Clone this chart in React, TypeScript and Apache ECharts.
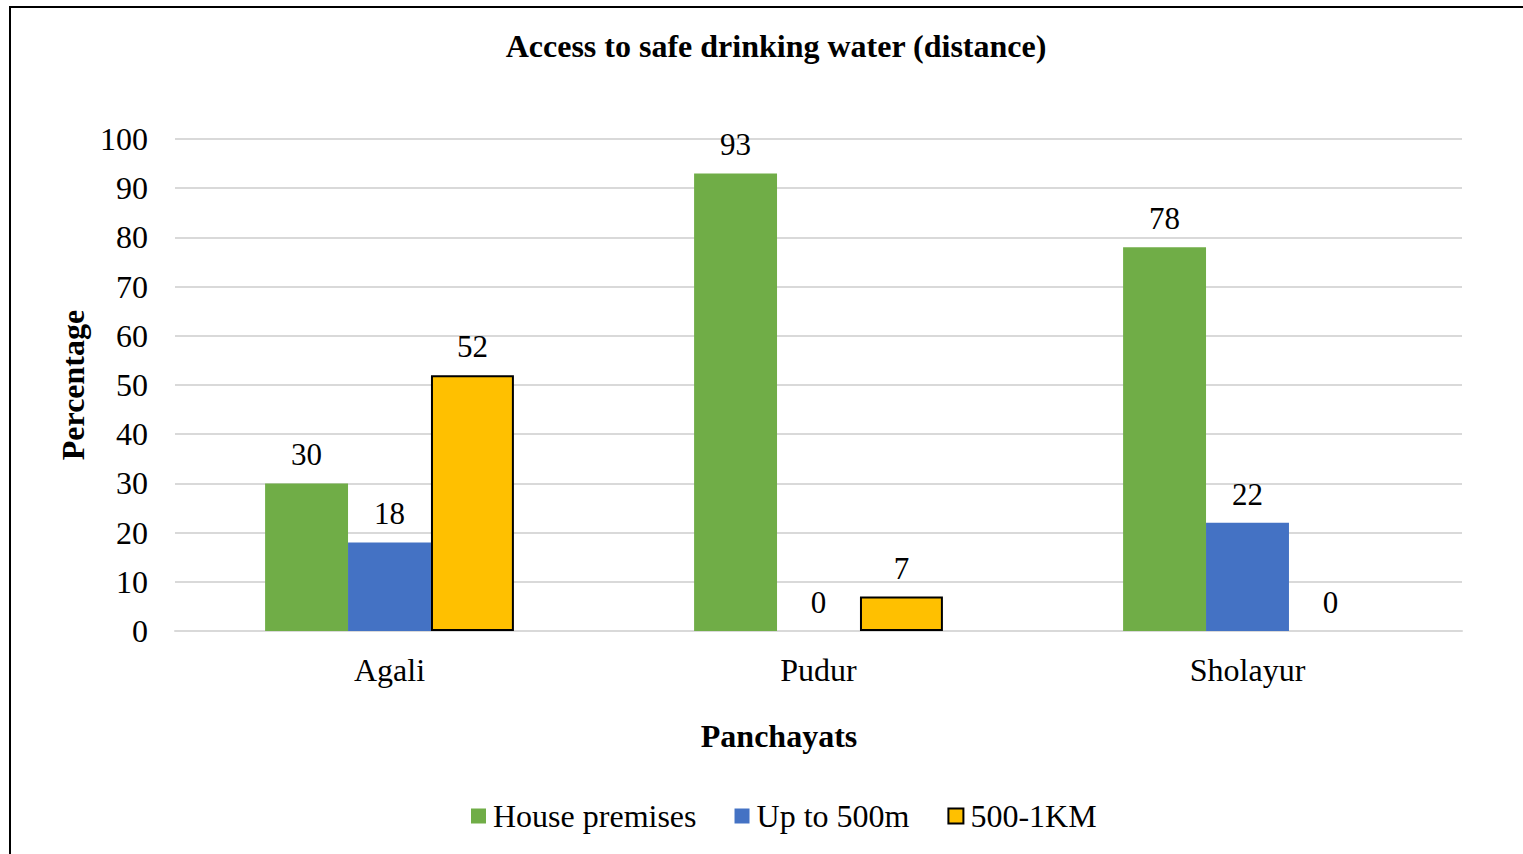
import React, { useEffect, useRef } from "react";
import * as echarts from "echarts";

const categories = ["Agali", "Pudur", "Sholayur"];
const housePremises = [30, 93, 78];
const upTo500m = [18, 0, 22];
const km500to1 = [52, 7, 0];
const seriesNames = ["House premises", "Up to 500m", "500-1KM"];
const xAxisTitle = "Panchayats";

const FONT = "'Liberation Serif', 'Times New Roman', serif";

export default function App() {
  const ref = useRef<HTMLDivElement>(null);
  useEffect(() => {
    if (!ref.current) return;
    const chart = echarts.init(ref.current, undefined, { renderer: "svg" });
    const label = {
      show: true,
      position: "top",
      distance: 13,
      color: "#000",
      fontFamily: FONT,
      fontSize: 31,
    };
    chart.setOption({
      animation: false,
      backgroundColor: "#fff",
      textStyle: { fontFamily: FONT },
      title: {
        text: "Access to safe drinking water (distance)",
        left: 771,
        textAlign: "center",
        top: 25,
        textStyle: { fontFamily: FONT, fontSize: 32, fontWeight: "bold", color: "#000" },
      },
      legend: {
        bottom: 17,
        left: 466,
        icon: "rect",
        itemWidth: 15,
        itemHeight: 15,
        itemGap: 38,
        textStyle: { fontFamily: FONT, fontSize: 32, color: "#000", padding: [0, 0, 0, 2] },
        data: seriesNames,
      },
      grid: { left: 175, right: 61, top: 139, bottom: 223, containLabel: false },
      xAxis: {
        type: "category",
        data: categories,
        axisLine: { lineStyle: { color: "#d9d9d9", width: 2 } },
        axisTick: { show: false },
        axisLabel: { fontFamily: FONT, fontSize: 32, color: "#000", margin: 23 },
      },
      yAxis: {
        type: "value",
        min: 0,
        max: 100,
        interval: 10,
        name: "Percentage",
        nameLocation: "middle",
        nameGap: 84,
        nameTextStyle: { fontFamily: FONT, fontSize: 32, fontWeight: "bold", color: "#000" },
        axisLine: { show: false },
        axisTick: { show: false },
        splitLine: { lineStyle: { color: "#d9d9d9", width: 2 } },
        axisLabel: { fontFamily: FONT, fontSize: 32, color: "#000", margin: 27 },
      },
      series: [
        {
          name: seriesNames[0],
          type: "bar",
          data: housePremises,
          barGap: "0%",
          barCategoryGap: "42%",
          itemStyle: { color: "#70AD47" },
          label,
        },
        {
          name: seriesNames[1],
          type: "bar",
          data: upTo500m,
          itemStyle: { color: "#4472C4" },
          label,
        },
        {
          name: seriesNames[2],
          type: "bar",
          data: km500to1.map((v) =>
            v === 0 ? { value: v, itemStyle: { borderWidth: 0 } } : v
          ),
          itemStyle: { color: "#FFC000", borderColor: "#000", borderWidth: 2 },
          label,
        },
      ],
      graphic: [
        {
          type: "rect",
          shape: { x: 10, y: 7, width: 1530, height: 870 },
          style: { fill: "none", stroke: "#000", lineWidth: 2 },
          silent: true,
        },
        {
          type: "text",
          x: 779,
          y: 736,
          style: {
            text: xAxisTitle,
            fontFamily: FONT,
            fontSize: 32,
            fontWeight: "bold",
            fill: "#000",
            align: "center",
            verticalAlign: "middle",
          },
          silent: true,
        },
      ],
    });
    return () => chart.dispose();
  }, []);
  return (
    <div
      ref={ref}
      style={{ position: "fixed", left: 0, top: 0, width: 1523, height: 854 }}
    />
  );
}
